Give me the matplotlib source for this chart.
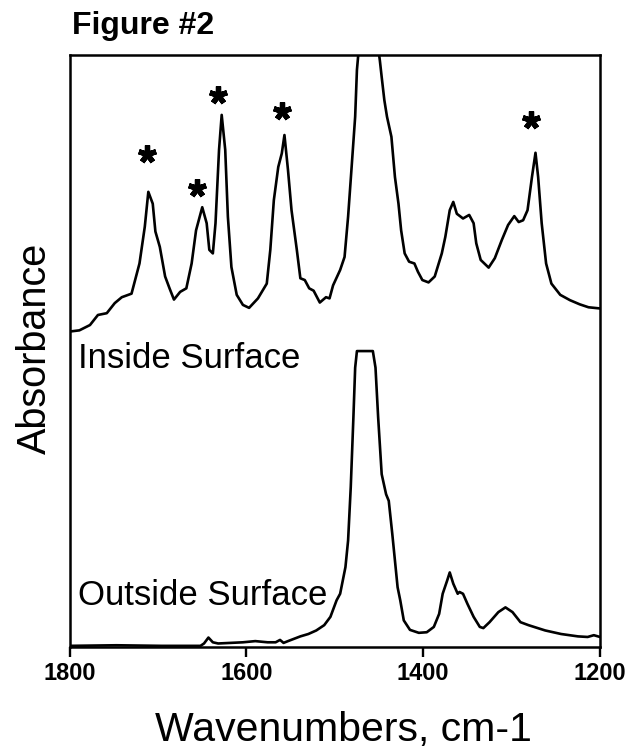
import matplotlib
matplotlib.use('Agg')
import matplotlib.pyplot as plt

plt.rcParams['font.family'] = ['Liberation Sans', 'DejaVu Sans']

# inside surface spectrum (top trace)
inside_wn = [1800, 1789, 1777, 1768, 1758, 1749, 1741, 1730, 1721, 1715, 1711, 1706, 1703, 1698,
             1692, 1687, 1682, 1675, 1668, 1662, 1657, 1650, 1645, 1642, 1638, 1635, 1631, 1628,
             1624, 1621, 1617, 1611, 1604, 1597, 1587, 1577, 1573, 1569, 1564, 1560, 1557, 1553,
             1549, 1543, 1539, 1534, 1529, 1524, 1517, 1510, 1506, 1502, 1494, 1489, 1485, 1481,
             1477, 1475, 1470, 1462, 1455, 1449, 1447, 1444, 1441, 1436, 1432, 1428, 1425, 1421,
             1416, 1410, 1406, 1401, 1394, 1387, 1379, 1375, 1370, 1366, 1362, 1355, 1348, 1343,
             1340, 1335, 1326, 1319, 1311, 1304, 1297, 1292, 1287, 1282, 1277, 1273, 1270, 1266,
             1261, 1255, 1245, 1234, 1223, 1213, 1200]
inside_abs = [53.3, 53.5, 54.4, 56.1, 56.4, 58.1, 59.1, 59.7, 64.8, 71.0, 76.9, 74.9, 70.2, 67.6,
              62.6, 60.6, 58.7, 60.0, 60.6, 64.8, 70.4, 74.3, 71.6, 67.1, 66.5, 71.6, 84.0, 89.9,
              84.0, 72.7, 64.2, 59.5, 57.8, 57.3, 58.9, 61.4, 67.1, 75.5, 81.1, 83.4, 86.5, 80.6,
              73.8, 67.1, 62.3, 62.0, 60.6, 60.2, 58.2, 59.1, 58.9, 61.1, 63.7, 65.9, 72.7, 81.1,
              89.6, 97.5, 106.0, 110.0, 106.0, 99.0, 96.3, 92.4, 89.6, 86.2, 79.4, 74.9, 70.4, 66.5,
              65.1, 64.8, 63.4, 62.0, 61.6, 62.6, 66.5, 69.3, 73.8, 75.2, 73.2, 72.4, 73.0, 71.6,
              68.2, 65.4, 64.1, 65.7, 68.8, 71.3, 72.8, 71.8, 72.1, 73.8, 79.4, 83.5, 79.4, 71.6,
              64.8, 61.4, 59.5, 58.6, 57.9, 57.4, 57.2]

# outside surface spectrum (bottom trace)
outside_wn = [1800, 1747, 1696, 1652, 1648, 1643, 1638, 1632, 1618, 1604, 1590, 1576, 1567, 1562,
              1558, 1553, 1546, 1539, 1530, 1521, 1512, 1505, 1498, 1494, 1488, 1485, 1482, 1479,
              1477, 1475, 1457, 1454, 1451, 1447, 1442, 1439, 1435, 1432, 1429, 1426, 1422, 1415,
              1405, 1396, 1388, 1382, 1378, 1373, 1370, 1366, 1361, 1359, 1355, 1350, 1343, 1336,
              1332, 1325, 1315, 1307, 1299, 1290, 1281, 1262, 1244, 1225, 1214, 1207, 1200]
outside_abs = [0.2, 0.3, 0.2, 0.2, 0.6, 1.6, 0.8, 0.6, 0.7, 0.8, 1.0, 0.8, 0.8, 1.2,
               0.7, 1.0, 1.4, 1.8, 2.2, 2.8, 3.7, 5.1, 7.9, 9.0, 13.5, 18.0, 27.0, 38.8,
               47.2, 50.0, 50.0, 47.2, 38.8, 29.2, 25.8, 24.7, 19.1, 14.6, 10.1, 7.9, 4.5, 2.9,
               2.4, 2.5, 3.4, 5.6, 9.0, 11.2, 12.6, 10.7, 9.0, 9.3, 9.0, 7.3, 5.1, 3.4,
               3.2, 4.2, 5.9, 6.7, 5.9, 4.2, 3.7, 2.8, 2.2, 1.8, 1.7, 2.0, 1.7]

# asterisks above the marked bands
star_wn = [1712, 1656, 1632, 1560, 1278]
star_y = [83.3, 77.6, 93.2, 90.6, 89.1]

fig = plt.figure(figsize=(6.39, 7.55), dpi=100)
ax = fig.add_axes([0.109, 0.143, 0.830, 0.784])

ax.plot(inside_wn, inside_abs, color='black', lw=1.9)
ax.plot(outside_wn, outside_abs, color='black', lw=1.9)
ax.plot(star_wn, star_y, ls='none', marker=(5, 2, 0), ms=13, mew=3.8, color='black')

ax.text(1791, 48.7, 'Inside Surface', fontsize=25, ha='left', va='center')
ax.text(1791, 8.7, 'Outside Surface', fontsize=25, ha='left', va='center')

ax.set_xlim(1800, 1200)
ax.set_ylim(0, 100)
ax.set_xticks([1800, 1600, 1400, 1200])
ax.set_yticks([])
ax.tick_params(axis='x', direction='out', length=7, width=1.7, labelsize=17, pad=4)
for lab in ax.get_xticklabels():
    lab.set_fontweight('bold')
for sp in ax.spines.values():
    sp.set_linewidth(1.8)

fig.text(0.113, 0.966, 'Figure #2', fontsize=23, fontweight='bold', ha='left', va='center')
fig.text(0.537, 0.033, 'Wavenumbers, cm-1', fontsize=29.5, ha='center', va='center')
fig.text(0.055, 0.538, 'Absorbance', fontsize=28.5, rotation=90, ha='center', va='center')

fig.savefig('out.png', dpi=100)
